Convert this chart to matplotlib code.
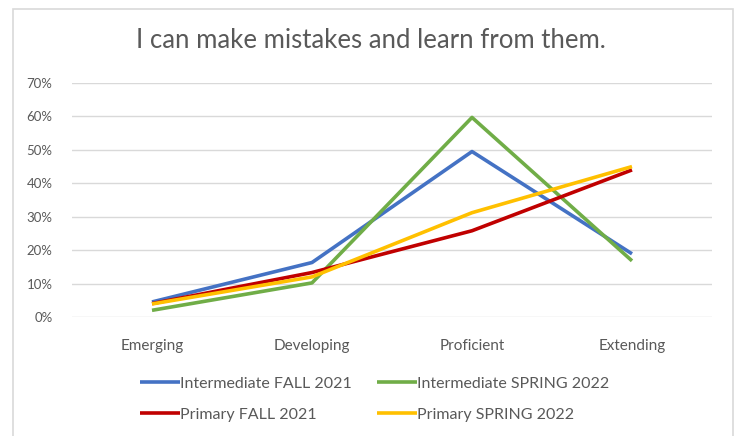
import matplotlib
matplotlib.use('Agg')
import matplotlib.pyplot as plt
from matplotlib.patches import Rectangle
from matplotlib.ticker import PercentFormatter

plt.rcParams['font.family'] = ['Lato', 'DejaVu Sans']

#data
levels = ['Emerging', 'Developing', 'Proficient', 'Extending']
int_fall = [0.045, 0.163, 0.495, 0.189]
int_spring = [0.02, 0.102, 0.597, 0.168]
pri_fall = [0.04, 0.133, 0.258, 0.44]
pri_spring = [0.039, 0.12, 0.312, 0.45]
series = ['Intermediate FALL 2021', 'Intermediate SPRING 2022', 'Primary FALL 2021', 'Primary SPRING 2022']
colors = ['#4472C4', '#70AD47', '#C00000', '#FFC000']

fig = plt.figure(figsize=(7.35, 4.36), dpi=100)
fig.patches.append(Rectangle((13/735, -0.05), 720/735, 1 - 9/436 + 0.05, transform=fig.transFigure,
                             fill=False, edgecolor='#D9D9D9', linewidth=1.2))
ax = fig.add_axes([72/735, 1 - 317/436, 640/735, 234/436])

x = range(len(levels))
lines = []
for vals, name, c in zip([int_fall, int_spring, pri_fall, pri_spring], series, colors):
    ln, = ax.plot(x, vals, color=c, linewidth=2.6, label=name, solid_capstyle='butt')
    lines.append(ln)

ax.set_xlim(-0.5, 3.5)
ax.set_ylim(0, 0.7)
ax.set_yticks([i / 10 for i in range(8)])
ax.yaxis.set_major_formatter(PercentFormatter(1.0, decimals=0))
ax.set_xticks(list(x))
ax.set_xticklabels(levels)
ax.grid(axis='y', color='#D9D9D9', linewidth=1)
ax.set_axisbelow(True)
for s in ax.spines.values():
    s.set_visible(False)
ax.tick_params(length=0, colors='#595959', labelsize=9.5)
ax.tick_params(axis='x', labelsize=11, pad=16)
ax.tick_params(axis='y', pad=14)

fig.text(0.505, 1 - 41/436, 'I can make mistakes and learn from them.', ha='center', va='center',
         fontsize=18.5, color='#595959')

#legend fills column-major, so reorder for row-major look
order = [0, 2, 1, 3]
fig.legend([lines[i] for i in order], [series[i] for i in order], ncol=2, frameon=False,
           loc='center', bbox_to_anchor=(0.51, 1 - 399/436), fontsize=11.5, labelcolor='#595959',
           handlelength=2.5, handletextpad=0.0, columnspacing=1.6, labelspacing=1.05,
           borderaxespad=0, borderpad=0)

fig.savefig('out.png', dpi=100)
